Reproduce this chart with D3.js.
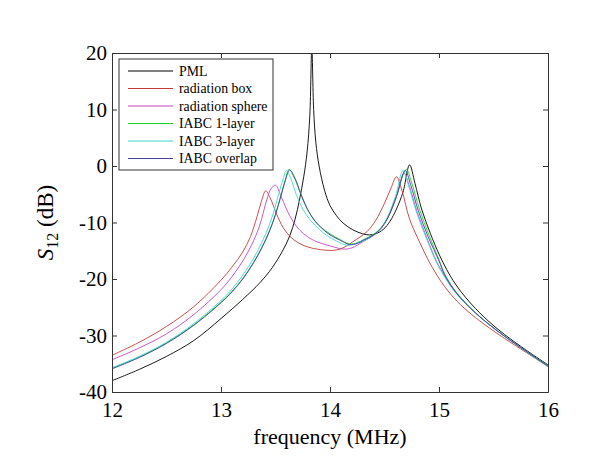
<!DOCTYPE html>
<html>
<head>
<meta charset="utf-8">
<script src="https://cdn.jsdelivr.net/npm/d3@7"></script>
<style>
    body { margin: 0; background: #fff; }
    .chart text { font-family: "Liberation Serif", "Times New Roman", serif; fill: #000; }
    .tick text { font-size: 21px; }
    .legend text { font-size: 13.8px; }
</style>
</head>
<body>
<svg class="chart"></svg>
<script>
// frequency (MHz) / S12 (dB) pairs
var pml = [[12,-38],[12.25,-36],[12.5,-33.7],[12.75,-30.9],[13,-27],[13.2,-23.6],[13.36,-20.6],
    [13.47,-18],[13.56,-15.2],[13.63,-12.4],[13.68,-9.4],[13.72,-6],[13.76,-1.8],[13.79,2.5],
    [13.815,9],[13.833,21],[13.85,10],[13.87,4.2],[13.9,0],[13.95,-4.3],[14,-7],[14.06,-8.8],
    [14.12,-10.1],[14.21,-11.3],[14.3,-12],[14.36,-12.2],[14.42,-12],[14.49,-11.2],[14.55,-9.8],
    [14.61,-7.6],[14.67,-4.6],[14.73,0.2],[14.78,-3.1],[14.84,-7.6],[14.92,-11.9],[15,-15.6],
    [15.07,-18.3],[15.13,-20.3],[15.2,-22.2],[15.3,-24.5],[15.45,-27.4],[15.6,-29.8],[15.8,-32.6],
    [16,-35.2]];
var radiationBox = [[12,-33.5],[12.25,-31.2],[12.5,-28.4],[12.75,-24.9],[13,-20.2],[13.1,-17.9],
    [13.2,-15.2],[13.27,-12.5],[13.33,-9],[13.37,-6.3],[13.41,-4.4],[13.45,-5.6],[13.51,-8.5],
    [13.57,-10.9],[13.63,-12.4],[13.7,-13.5],[13.79,-14.3],[13.91,-14.8],[14.05,-14.9],
    [14.13,-14.4],[14.21,-13.4],[14.34,-11.6],[14.42,-9.6],[14.5,-6.6],[14.56,-3.9],[14.61,-1.9],
    [14.66,-4.3],[14.73,-9.4],[14.83,-13.8],[14.9,-16.6],[14.98,-19.3],[15.05,-21.3],[15.13,-23.2],
    [15.2,-24.6],[15.3,-26.3],[15.45,-28.5],[15.6,-30.5],[15.8,-33],[16,-35.5]];
var radiationSphere = [[12,-34.3],[12.25,-32.2],[12.5,-29.7],[12.75,-26.3],[13,-21.9],
    [13.1,-19.6],[13.2,-16.8],[13.28,-14],[13.35,-10.8],[13.42,-6],[13.46,-4],[13.5,-3.4],
    [13.55,-5.3],[13.6,-7.6],[13.66,-9.8],[13.72,-11.3],[13.8,-12.6],[13.88,-13.4],[14.03,-14.3],
    [14.12,-14.7],[14.2,-14.5],[14.31,-13.3],[14.4,-12.3],[14.47,-10.9],[14.54,-8.8],[14.61,-5.4],
    [14.68,-1.3],[14.73,-3.7],[14.8,-8.2],[14.89,-12.8],[14.98,-17],[15.05,-19.4],[15.13,-21.8],
    [15.2,-23.4],[15.3,-25.4],[15.45,-27.9],[15.6,-30.1],[15.8,-32.8],[16,-35.3]];
var iabc1 = [[12,-35.8],[12.25,-33.8],[12.5,-31.3],[12.75,-28.1],[13,-24.1],[13.1,-22.2],
    [13.2,-19.9],[13.3,-17],[13.38,-14.2],[13.45,-11.2],[13.5,-8.5],[13.55,-5.2],[13.59,-2.4],
    [13.625,-0.6],[13.67,-2],[13.72,-4.4],[13.78,-7.2],[13.85,-9.4],[13.92,-10.9],[14,-12],
    [14.09,-13],[14.18,-13.8],[14.25,-13.6],[14.31,-13],[14.4,-12.1],[14.47,-10.9],[14.53,-9],
    [14.61,-5.2],[14.7,-0.6],[14.75,-3],[14.82,-7.6],[14.91,-12.3],[15,-16.6],[15.05,-19],
    [15.13,-21.6],[15.2,-23.3],[15.3,-25.3],[15.45,-27.9],[15.6,-30.1],[15.8,-32.8],[16,-35.3]];
var iabc3 = [[12,-35.7],[12.25,-33.7],[12.5,-31.2],[12.75,-27.9],[13,-23.8],[13.1,-21.8],
    [13.2,-19.3],[13.3,-16.3],[13.38,-13.3],[13.44,-10.6],[13.49,-7.7],[13.53,-4.9],[13.57,-2.3],
    [13.6,-0.8],[13.64,-2.2],[13.69,-5],[13.75,-7.6],[13.82,-9.6],[13.9,-11.2],[13.97,-12.3],
    [14.06,-13.3],[14.15,-14],[14.23,-13.8],[14.31,-13.2],[14.4,-12.3],[14.47,-11],[14.53,-9],
    [14.6,-5.4],[14.67,-0.8],[14.72,-3.4],[14.79,-8],[14.88,-12.6],[14.98,-17.2],[15.05,-19.6],
    [15.13,-21.9],[15.2,-23.5],[15.3,-25.4],[15.45,-27.9],[15.6,-30.1],[15.8,-32.9],[16,-35.5]];
var iabcOverlap = [[12,-35.9],[12.25,-33.9],[12.5,-31.4],[12.75,-28.2],[13,-24.2],[13.1,-22.3],
    [13.2,-20],[13.3,-17.1],[13.38,-14.3],[13.45,-11.3],[13.5,-8.6],[13.55,-5.3],[13.59,-2.6],
    [13.63,-0.7],[13.68,-2.2],[13.73,-4.8],[13.79,-7.5],[13.86,-9.7],[13.93,-11.1],[14,-12.2],
    [14.09,-13.1],[14.18,-13.9],[14.25,-13.7],[14.31,-13.1],[14.4,-12.2],[14.47,-11],[14.53,-9.2],
    [14.61,-5.4],[14.69,-0.8],[14.74,-3.3],[14.81,-7.9],[14.9,-12.5],[15,-16.8],[15.05,-19.2],
    [15.13,-21.7],[15.2,-23.4],[15.3,-25.4],[15.45,-27.9],[15.6,-30.1],[15.8,-32.8],[16,-35.4]];

var seriesNames = ["PML", "radiation box", "radiation sphere", "IABC 1-layer", "IABC 3-layer", "IABC overlap"];
var seriesValues = [pml, radiationBox, radiationSphere, iabc1, iabc3, iabcOverlap];
var seriesColors = ["#000000", "#c43a3a", "#c444c4", "#1ed21e", "#44d4d4", "#4040a8"];
var xTicks = [12, 13, 14, 15, 16];
var yTicks = [-40, -30, -20, -10, 0, 10, 20];

var outerSize = {width: 590, height: 472};
var margin = {top: 53, right: 42, bottom: 80, left: 112};
var innerSize = {width: outerSize.width - margin.left - margin.right,
    height: outerSize.height - margin.top - margin.bottom};

var svg = d3.select(".chart")
        .attr("width", outerSize.width)
        .attr("height", outerSize.height);
var chart = svg.append("g")
        .attr("transform", "translate(" + margin.left + "," + margin.top + ")");

var xRange = d3.scaleLinear().domain([12, 16]).range([0, innerSize.width]);
var yRange = d3.scaleLinear().domain([-40, 20]).range([innerSize.height, 0]);

chart.append("clipPath").attr("id", "plotArea")
        .append("rect").attr("width", innerSize.width).attr("height", innerSize.height);

var line = d3.line()
        .x(function (d) { return xRange(d[0]); })
        .y(function (d) { return yRange(d[1]); })
        .curve(d3.curveCatmullRom.alpha(0.5));

chart.append("g").attr("clip-path", "url(#plotArea)")
        .selectAll("path")
        .data(seriesValues)
        .enter().append("path")
        .attr("d", line)
        .attr("fill", "none")
        .attr("stroke", function (d, i) { return seriesColors[i]; })
        .attr("stroke-width", 0.9);

// matlab style box with inward ticks on all four sides
var tickLen = 5;
var plainNumber = function (d) { return String(d); };
chart.append("g")
        .attr("transform", "translate(0," + innerSize.height + ")")
        .call(d3.axisBottom(xRange).tickValues(xTicks).tickFormat(plainNumber)
            .tickSizeInner(-tickLen).tickSizeOuter(0).tickPadding(10))
        .call(styleAxis);
chart.append("g")
        .call(d3.axisTop(xRange).tickValues(xTicks).tickSizeInner(-tickLen).tickSizeOuter(0).tickFormat(""))
        .call(styleAxis);
chart.append("g")
        .call(d3.axisLeft(yRange).tickValues(yTicks).tickFormat(plainNumber)
            .tickSizeInner(-tickLen).tickSizeOuter(0).tickPadding(5))
        .call(styleAxis);
chart.append("g")
        .attr("transform", "translate(" + innerSize.width + ",0)")
        .call(d3.axisRight(yRange).tickValues(yTicks).tickSizeInner(-tickLen).tickSizeOuter(0).tickFormat(""))
        .call(styleAxis);

function styleAxis(g) {
    g.select(".domain").attr("stroke", "#333").attr("stroke-width", 1);
    g.selectAll(".tick line").attr("stroke", "#333");
    g.selectAll(".tick text").attr("font-family", null);
}

chart.append("text")
        .attr("x", innerSize.width / 2)
        .attr("y", innerSize.height + 52)
        .style("text-anchor", "middle")
        .style("font-size", "22px")
        .text("frequency (MHz)");

var yLabel = chart.append("text")
        .attr("transform", "translate(" + (53 - margin.left) + "," + (innerSize.height / 2) + ") rotate(-90)")
        .style("text-anchor", "middle")
        .style("font-size", "23px");
yLabel.append("tspan").style("font-style", "italic").text("S");
yLabel.append("tspan").attr("dy", 5).style("font-size", "16px").text("12");
yLabel.append("tspan").attr("dy", -5).text(" (dB)");

var legend = chart.append("g")
        .attr("class", "legend")
        .attr("transform", "translate(7,6)");
legend.append("rect")
        .attr("width", 154)
        .attr("height", 111)
        .attr("fill", "#fff")
        .attr("stroke", "#333")
        .attr("stroke-width", 1);
var legendItem = legend.selectAll(".item")
        .data(seriesNames)
        .enter().append("g")
        .attr("class", "item")
        .attr("transform", function (d, i) { return "translate(0," + (12 + i * 17.5) + ")"; });
legendItem.append("line")
        .attr("x1", 9).attr("x2", 54)
        .attr("stroke", function (d, i) { return seriesColors[i]; })
        .attr("stroke-width", 1.2);
legendItem.append("text")
        .attr("x", 60)
        .attr("dy", "0.33em")
        .text(function (d) { return d; });
</script>
</body>
</html>
